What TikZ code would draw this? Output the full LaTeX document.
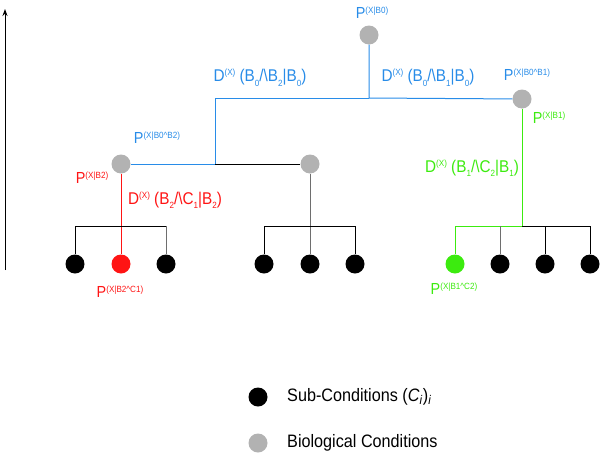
\documentclass[tikz,border=0pt]{standalone}
\usepackage{fontspec}
\setmainfont{Liberation Sans}
\newfontfamily\lblfont[FakeStretch=0.9]{Liberation Sans}
\usetikzlibrary{arrows.meta}
\definecolor{cblue}{RGB}{40,140,232}
\definecolor{cred}{RGB}{255,20,20}
\definecolor{cgreen}{RGB}{60,235,15}
\definecolor{cgrey}{RGB}{178,178,178}
\definecolor{cdark}{RGB}{110,110,110}
\newcommand\hix[2][5pt]{\raisebox{#1}{\fontsize{9}{9}\selectfont #2}}
\newcommand\lox[1]{\raisebox{-4.5pt}{\fontsize{9}{9}\selectfont #1}}
\begin{document}
\begin{tikzpicture}[x=1pt,y=-1pt,
  bio/.style={circle,fill=cgrey,minimum size=19pt,inner sep=0pt},
  subc/.style={circle,fill=black,minimum size=19pt,inner sep=0pt},
  plbl/.style={inner sep=0pt,font=\lblfont\fontsize{16}{16}\selectfont},
  dlbl/.style={inner sep=0pt,font=\lblfont\fontsize{17}{17}\selectfont},
  leg/.style={inner sep=0pt,anchor=west,font=\lblfont\fontsize{18}{18}\selectfont},
  edge/.style={line width=1pt}]
\useasboundingbox (0,0) rectangle (600,453);
% nodes
\node[bio] (b0) at (369,35) {};
\node[bio] (b1) at (522,99) {};
\node[bio] (b2) at (121,164) {};
\node[bio] (b3) at (310,164) {};
\node[subc] (c1) at (75,264) {};
\node[subc,fill=cred] (c2) at (121,264) {};
\node[subc] (c3) at (166,264) {};
\node[subc] (c4) at (264,264) {};
\node[subc] (c5) at (310,264) {};
\node[subc] (c6) at (355,264) {};
\node[subc,fill=cgreen] (c7) at (455,264) {};
\node[subc] (c8) at (500,264) {};
\node[subc] (c9) at (545,264) {};
\node[subc] (c10) at (590,264) {};
% junctions
\coordinate (j0) at (369,98);
\coordinate (j1) at (215,98);
\coordinate (j2) at (215,164);
\coordinate (k1) at (75,226);
\coordinate (k2) at (121,226);
\coordinate (k3) at (166,226);
\coordinate (k4) at (264,226);
\coordinate (k5) at (310,226);
\coordinate (k6) at (355,226);
\coordinate (k7) at (455,226);
\coordinate (k8) at (500,226);
\coordinate (k9) at (545,226);
\coordinate (k10) at (590,226);
\coordinate (k0) at (522,226);
% edges
\draw[edge,cblue] (b0) -- (j0) -- (b1);
\draw[edge,cblue] (j0) -- (j1) -- (j2) -- (b2);
\draw[edge] (j2) -- (b3);
\draw[edge,cred] (b2) -- (c2);
\draw[edge] (c1) -- (k1) -- (k3);
\draw[edge,cdark] (k3) -- (c3);
\draw[edge,cdark] (b3) -- (c5);
\draw[edge] (c4) -- (k4) -- (k6) -- (c6);
\draw[edge,cgreen] (b1) -- (k0) -- (k7) -- (c7);
\draw[edge] (k0) -- (k10) -- (c10);
\draw[edge,cdark] (k8) -- (c8);
\draw[edge] (k9) -- (c9);
% labels
\node[plbl,text=cblue] (lp0) at (372,13) {P\hix{(X|B0)}};
\node[dlbl,text=cblue] (ld02) at (260,78) {D\hix[6pt]{(X)} (B\lox{0}/\textbackslash B\lox{2}|B\lox{0})};
\node[dlbl,text=cblue] (ld01) at (428,78) {D\hix[6pt]{(X)} (B\lox{0}/\textbackslash B\lox{1}|B\lox{0})};
\node[plbl,text=cblue] (lp01) at (527,75) {P\hix{(X|B0\^{}B1)}};
\node[plbl,text=cgreen] (lp1) at (549,118) {P\hix{(X|B1)}};
\node[plbl,text=cblue] (lp02) at (157,138) {P\hix{(X|B0\^{}B2)}};
\node[plbl,text=cred] (lp2) at (92,178) {P\hix{(X|B2)}};
\node[dlbl,text=cred] (ld21) at (175,200) {D\hix[6pt]{(X)} (B\lox{2}/\textbackslash C\lox{1}|B\lox{2})};
\node[plbl,text=cred] (lp21) at (120,292) {P\hix{(X|B2\^{}C1)}};
\node[dlbl,text=cgreen] (ld12) at (472,168) {D\hix[6pt]{(X)} (B\lox{1}/\textbackslash C\lox{2}|B\lox{1})};
\node[plbl,text=cgreen] (lp12) at (454,289) {P\hix{(X|B1\^{}C2)}};
% legend
\node[subc] (ls) at (258,397) {};
\node[bio] (lb) at (258,443) {};
\node[leg] (lts) at (287,397) {Sub-Conditions (\textit{C}\textsubscript{\textit{i}})\textsubscript{\textit{i}}};
\node[leg] (ltb) at (287,443) {Biological Conditions};
% axis arrow
\coordinate (a0) at (5,270);
\coordinate (a1) at (5,9);
\draw[line width=1pt,-{Stealth[length=7pt,width=5pt]}] (a0) -- (a1);
\end{tikzpicture}
\end{document}
